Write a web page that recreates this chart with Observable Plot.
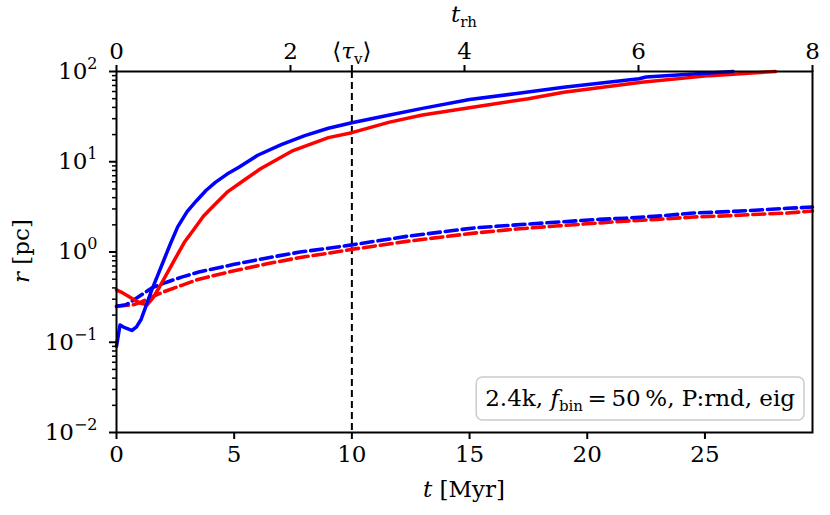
<!DOCTYPE html>
<html>
<head>
<meta charset="utf-8">
<script src="https://cdn.jsdelivr.net/npm/d3@7"></script>
<script src="https://cdn.jsdelivr.net/npm/@observablehq/plot@0.6"></script>
<style>
  html, body { margin: 0; padding: 0; background: #fff; }
  #chart { width: 830px; height: 515px; }
</style>
</head>
<body>
<div id="chart"></div>
<script>
// ---- data (t in Myr, r in pc) ----
const blueSolidT = [0, 0.15, 0.35, 0.65, 0.85, 1.05, 1.27, 1.5, 1.75, 2.0, 2.3, 2.6, 3.0, 3.4, 3.8, 4.2, 4.7, 5.2, 6.0, 7.0, 8.0, 9.0, 10.0, 11.5, 13.0, 15.0, 17.0, 19.0, 22.2, 22.5, 24.0, 25.2, 26.2];
const blueSolidR = [0.09, 0.155, 0.145, 0.135, 0.148, 0.18, 0.26, 0.38, 0.55, 0.8, 1.25, 1.9, 2.8, 3.7, 4.8, 5.9, 7.3, 8.7, 11.8, 15.5, 19.5, 23.5, 27, 32.5, 39, 49, 57, 67, 83, 87, 92, 96, 100];

const redSolidT = [0, 0.2, 0.45, 0.8, 1.05, 1.3, 1.55, 1.85, 2.1, 2.5, 2.9, 3.3, 3.7, 4.2, 4.7, 5.4, 6.1, 7.5, 9.0, 10.0, 11.6, 13.0, 15.2, 17.5, 19.0, 22.3, 25.2, 28.0];
const redSolidR = [0.38, 0.36, 0.33, 0.29, 0.27, 0.26, 0.31, 0.42, 0.55, 0.85, 1.3, 1.8, 2.5, 3.4, 4.6, 6.2, 8.3, 13.3, 18.5, 21, 27.5, 33, 40.5, 50, 59, 76, 90, 100];

const blueDashT = [0, 0.4, 0.7, 1.1, 1.5, 2.1, 2.8, 3.5, 5.0, 6.4, 7.8, 9.0, 10.0, 12.4, 15.2, 17.0, 18.8, 20.5, 21.6, 23.0, 24.5, 26.0, 27.3, 28.5, 29.57];
const blueDashR = [0.25, 0.26, 0.29, 0.34, 0.4, 0.46, 0.53, 0.6, 0.73, 0.86, 1.0, 1.1, 1.2, 1.5, 1.85, 2.0, 2.15, 2.3, 2.37, 2.5, 2.7, 2.8, 2.92, 3.05, 3.15];

const redDashT = [0, 0.35, 0.7, 1.0, 1.4, 2.1, 2.8, 3.5, 5.0, 6.4, 7.8, 9.0, 10.0, 12.4, 15.2, 17.0, 18.8, 20.5, 21.6, 23.0, 24.5, 26.0, 27.3, 28.5, 29.57];
const redDashR = [0.25, 0.255, 0.26, 0.275, 0.31, 0.37, 0.43, 0.5, 0.62, 0.74, 0.87, 0.97, 1.07, 1.32, 1.62, 1.8, 1.95, 2.1, 2.2, 2.3, 2.44, 2.52, 2.62, 2.7, 2.85];

// ---- axes ----
const xMax = 29.57;              // Myr at right edge
const trhMax = 8;                 // t_rh at right edge
const myrPerTrh = xMax / trhMax;
const tauV = 10;                  // <tau_v> in Myr
const xTicks = [0, 5, 10, 15, 20, 25];
const trhTicks = [0, 2, 4, 6, 8];
const yMajor = [0.01, 0.1, 1, 10, 100];
const yExp = ["−2", "−1", "0", "1", "2"];
const legendLabel = {pre: "2.4k, ", f: "f", sub: "bin", post: "\u2009=\u200950\u2009%, P:rnd, eig"};

const yMinor = [];
yMajor.slice(0, -1).forEach(d => { for (let k = 2; k <= 9; k++) yMinor.push(d * k); });

const toRows = (T, R, s) => T.map((t, i) => ({t, r: R[i], s}));
const blueSolid = toRows(blueSolidT, blueSolidR, "bs");
const redSolid = toRows(redSolidT, redSolidR, "rs");
const blueDash = toRows(blueDashT, blueDashR, "bd");
const redDash = toRows(redDashT, redDashR, "rd");

const FONT = "DejaVu Serif";
const FS = 23;

const chart = Plot.plot({
  width: 830,
  height: 515,
  marginLeft: 116,
  marginRight: 18,
  marginTop: 71,
  marginBottom: 83,
  style: {fontFamily: FONT, fontSize: FS + "px", background: "white", color: "black"},
  x: {domain: [0, xMax]},
  y: {type: "log", domain: [0.01, 100]},
  marks: [
    Plot.ruleX([tauV], {stroke: "black", strokeWidth: 2, strokeDasharray: "7,4"}),
    Plot.line(redDash, {x: "t", y: "r", stroke: "#ff0000", strokeWidth: 3.6, strokeDasharray: "12,5"}),
    Plot.line(blueDash, {x: "t", y: "r", stroke: "#0000ff", strokeWidth: 3.6, strokeDasharray: "12,5"}),
    Plot.line(redSolid, {x: "t", y: "r", stroke: "#ff0000", strokeWidth: 3.5}),
    Plot.line(blueSolid, {x: "t", y: "r", stroke: "#0000ff", strokeWidth: 3.5}),
    Plot.frame({stroke: "black", strokeWidth: 2}),
    Plot.axisX({anchor: "bottom", ticks: xTicks, tickSize: 7, tickPadding: 6, tickFormat: d => String(d), label: null, strokeWidth: 2}),
    Plot.axisX({anchor: "top", ticks: trhTicks.map(v => v * myrPerTrh), tickSize: 7, tickPadding: 6, tickFormat: d => String(Math.round(d / myrPerTrh)), label: null, strokeWidth: 2}),
    Plot.axisX({anchor: "top", ticks: [tauV], tickSize: 7, tickPadding: 6, tickFormat: () => "TAUV", label: null, strokeWidth: 2}),
    Plot.axisY({anchor: "left", ticks: yMinor, tickSize: 4, tickFormat: () => "", label: null, strokeWidth: 1.5}),
    Plot.axisY({anchor: "left", ticks: yMajor, tickSize: 7, tickPadding: 12, tickFormat: d => "E" + yMajor.indexOf(d), label: null, strokeWidth: 2})
  ]
});

document.getElementById("chart").appendChild(chart);
const svg = d3.select(chart);

// superscript y labels, tau label
svg.selectAll("text").each(function() {
  const el = d3.select(this);
  const s = el.text();
  if (/^E\d$/.test(s)) {
    const i = +s.slice(1);
    el.text("10");
    el.append("tspan").attr("dy", "-10").attr("font-size", "16px").text(yExp[i]);
  } else if (s === "TAUV") {
    el.text("⟨");
    el.append("tspan").attr("font-style", "italic").text("τ");
    el.append("tspan").attr("dy", "5").attr("font-size", "15px").text("v");
    el.append("tspan").attr("dy", "-5").text("⟩");
  }
});

const cx = (116 + 812) / 2;
// x label
const xl = svg.append("text").attr("x", cx).attr("y", 497).attr("text-anchor", "middle")
  .attr("font-family", FONT).attr("font-size", FS + "px").attr("fill", "black");
xl.append("tspan").attr("font-style", "italic").text("t");
xl.append("tspan").text(" [Myr]");

// top label
const tl = svg.append("text").attr("x", cx).attr("y", 22).attr("text-anchor", "middle")
  .attr("font-family", FONT).attr("font-size", FS + "px").attr("fill", "black");
tl.append("tspan").attr("font-style", "italic").text("t");
tl.append("tspan").attr("dy", "5").attr("font-size", "15px").text("rh");

// y label
const yl = svg.append("text").attr("transform", "translate(29,251) rotate(-90)").attr("text-anchor", "middle")
  .attr("font-family", FONT).attr("font-size", FS + "px").attr("fill", "black");
yl.append("tspan").attr("font-style", "italic").text("r");
yl.append("tspan").text(" [pc]");

// legend box
const lg = svg.append("g");
const box = lg.append("rect");
const lt = lg.append("text").attr("x", 0).attr("y", 406).attr("text-anchor", "start")
  .attr("font-family", FONT).attr("font-size", FS + "px").attr("fill", "black");
lt.append("tspan").text(legendLabel.pre);
lt.append("tspan").attr("font-style", "italic").text(legendLabel.f);
lt.append("tspan").attr("dy", "5").attr("font-size", "15px").text(legendLabel.sub);
lt.append("tspan").attr("dy", "-5").text(legendLabel.post);
const w = lt.node().getComputedTextLength();
const right = 804, pad = 9;
lt.attr("x", right - pad - w);
box.attr("x", right - 2 * pad - w).attr("y", 377).attr("width", w + 2 * pad).attr("height", 43)
  .attr("rx", 6).attr("fill", "white").attr("fill-opacity", 0.8).attr("stroke", "#cccccc").attr("stroke-width", 1.5);
</script>
</body>
</html>
